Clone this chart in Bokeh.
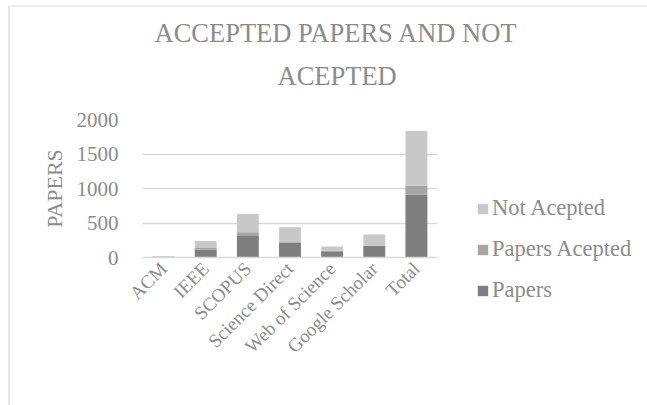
import math
from bokeh.plotting import figure
from bokeh.models import Legend, LegendItem, Title, FactorRange, Range1d, ColumnDataSource
from bokeh.embed import file_html
from bokeh.resources import INLINE

categories = ["ACM", "IEEE", "SCOPUS", "Science Direct", "Web of Science", "Google Scholar", "Total"]
papers = [12, 115, 312, 215, 80, 166, 912]
accepted = [3, 24, 53, 10, 22, 8, 131]
not_accepted = [7, 100, 265, 212, 58, 160, 790]
series = ["papers", "accepted", "not_accepted"]
series_labels = ["Papers", "Papers Acepted", "Not Acepted"]
colors = ["#7f7f7f", "#a5a5a5", "#c8c8c8"]
y_ticks = [0, 500, 1000, 1500, 2000]
title_lines = ["ACCEPTED PAPERS AND NOT", "ACEPTED"]

FONT = "Liberation Serif"
TXT = "#8c8c8c"

src = ColumnDataSource(dict(cat=categories, papers=papers, accepted=accepted, not_accepted=not_accepted))

p = figure(x_range=FactorRange(*categories, range_padding=0), y_range=Range1d(0, 2000),
           frame_width=295, frame_height=138, output_backend="svg", toolbar_location=None,
           min_border_left=132, min_border_right=210, min_border_top=112, min_border_bottom=148)
p.styles = {"border-left": "2px solid #e6e6e6", "border-top": "2px solid #eeeeee",
            "margin-left": "8px", "margin-top": "5px"}

rs = p.vbar_stack(series, x="cat", width=0.52, source=src, color=colors, line_color=None)

p.outline_line_color = None
p.xgrid.grid_line_color = None
p.ygrid.grid_line_color = "#d9d9d9"
p.ygrid.grid_line_width = 1.5
p.yaxis.ticker = y_ticks
p.yaxis.axis_line_color = None
p.yaxis.major_tick_line_color = None
p.yaxis.minor_tick_line_color = None
p.yaxis.major_label_text_font = FONT
p.yaxis.major_label_text_font_size = "21px"
p.yaxis.major_label_text_color = TXT
p.yaxis.major_label_standoff = 18
p.yaxis.axis_label = "PAPERS"
p.yaxis.axis_label_text_font = FONT
p.yaxis.axis_label_text_font_size = "22px"
p.yaxis.axis_label_text_font_style = "normal"
p.yaxis.axis_label_text_color = TXT
p.yaxis.axis_label_standoff = 7

p.xaxis.axis_line_color = "#d9d9d9"
p.xaxis.axis_line_width = 1.5
p.xaxis.major_tick_line_color = None
p.xaxis.minor_tick_line_color = None
p.xaxis.major_label_orientation = math.pi / 4
p.xaxis.major_label_text_font = FONT
p.xaxis.major_label_text_font_size = "19px"
p.xaxis.major_label_text_color = TXT
p.xaxis.major_label_standoff = 2

items = [LegendItem(label=series_labels[i], renderers=[rs[i]]) for i in (2, 1, 0)]
legend = Legend(items=items, location=(39, -46), orientation="vertical",
                glyph_width=13, glyph_height=13, label_height=23, spacing=15,
                label_standoff=3, padding=0, margin=0,
                label_text_font=FONT, label_text_font_size="22.5px", label_text_color=TXT,
                border_line_color=None, background_fill_alpha=0)
p.add_layout(legend, "right")

for txt, so, off in zip(reversed(title_lines), [57, -34], [135, 12]):
    p.add_layout(Title(text=txt, align="left", offset=off, text_font=FONT,
                       text_font_size="26.5px", text_font_style="normal", text_color=TXT,
                       standoff=so), "above")

open("out.html", "w").write(file_html(p, INLINE))
